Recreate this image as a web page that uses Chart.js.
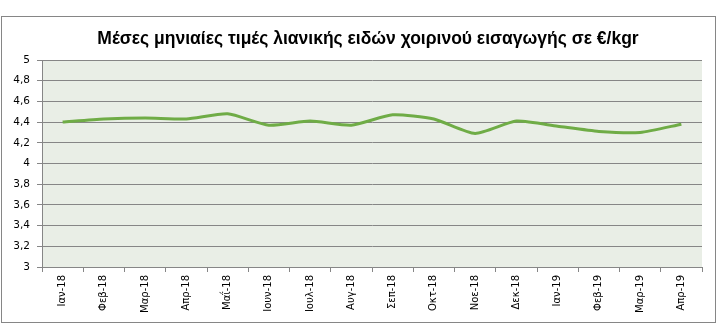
<!DOCTYPE html>
<html lang="el">
<head>
<meta charset="utf-8">
<title>Τιμές χοιρινού εισαγωγής</title>
<script src="https://cdn.jsdelivr.net/npm/chart.js@4/dist/chart.umd.min.js"></script>
<style>
    html, body { margin: 0; padding: 0; background: #fff; }
    canvas { display: block; }
</style>
</head>
<body>
<canvas id="graficoTimes" width="716" height="335"></canvas>
<script>
// Μήνες (άξονας x)
const mines = ['Ιαν-18', 'Φεβ-18', 'Μαρ-18', 'Απρ-18', 'Μαΐ-18', 'Ιουν-18', 'Ιουλ-18', 'Αυγ-18',
    'Σεπ-18', 'Οκτ-18', 'Νοε-18', 'Δεκ-18', 'Ιαν-19', 'Φεβ-19', 'Μαρ-19', 'Απρ-19'];

// Μέση τιμή ανά μήνα σε €/kgr
const times = [4.40, 4.43, 4.44, 4.43, 4.48, 4.37, 4.41, 4.37,
    4.47, 4.43, 4.29, 4.41, 4.36, 4.31, 4.30, 4.38];

// Άξονας y
const yMin = 3;
const yMax = 5;
const yStep = 0.2;

const titlos = 'Μέσες μηνιαίες τιμές λιανικής ειδών χοιρινού εισαγωγής σε €/kgr';

const grizo = '#868686';

// Πλαίσιο γραφήματος, φόντο περιοχής και τίτλος
const plaisio = {
    id: 'plaisio',
    beforeDraw(chart) {
        const ctx = chart.ctx;
        const a = chart.chartArea;
        ctx.save();
        ctx.fillStyle = '#e9eee6';
        ctx.fillRect(a.left, a.top, a.right - a.left, a.bottom - a.top);
        ctx.strokeStyle = grizo;
        ctx.lineWidth = 1;
        ctx.strokeRect(1.5, 16.5, 714, 306);
        ctx.fillStyle = '#000';
        ctx.font = 'bold 17.5px "Liberation Sans", Arial, sans-serif';
        ctx.textAlign = 'center';
        ctx.textBaseline = 'middle';
        ctx.fillText(titlos, 368, 39);
        ctx.restore();
    }
};

const ctx = document.getElementById('graficoTimes').getContext('2d');
const grafima = new Chart(ctx, {
    type: 'line',
    data: {
        labels: mines,
        datasets: [{
            data: times,
            borderColor: '#6fac46',
            borderWidth: 3,
            pointRadius: 0,
            tension: 0.2,
            fill: false
        }]
    },
    options: {
        responsive: false,
        animation: false,
        layout: {
            padding: { left: 0, right: 14, top: 60, bottom: 0 }
        },
        plugins: {
            legend: { display: false },
            title: { display: false },
            tooltip: { enabled: false }
        },
        scales: {
            x: {
                offset: true,
                afterFit: function (scale) { scale.height = 68; },
                grid: {
                    offset: true,
                    drawOnChartArea: false,
                    drawTicks: true,
                    tickLength: 5,
                    color: grizo
                },
                border: { display: true, color: grizo },
                ticks: {
                    autoSkip: false,
                    minRotation: 90,
                    maxRotation: 90,
                    padding: 3,
                    color: '#000',
                    font: { family: '"DejaVu Sans", Verdana, sans-serif', size: 10 }
                }
            },
            y: {
                min: yMin,
                max: yMax,
                afterFit: function (scale) { scale.width = 42; },
                grid: {
                    color: grizo,
                    tickLength: 5
                },
                border: { display: true, color: grizo },
                ticks: {
                    stepSize: yStep,
                    padding: 7,
                    color: '#000',
                    font: { family: '"DejaVu Sans", Verdana, sans-serif', size: 10.5 },
                    callback: function (v) {
                        return String(Math.round(v * 10) / 10).replace('.', ',');
                    }
                }
            }
        }
    },
    plugins: [plaisio]
});
</script>
</body>
</html>
